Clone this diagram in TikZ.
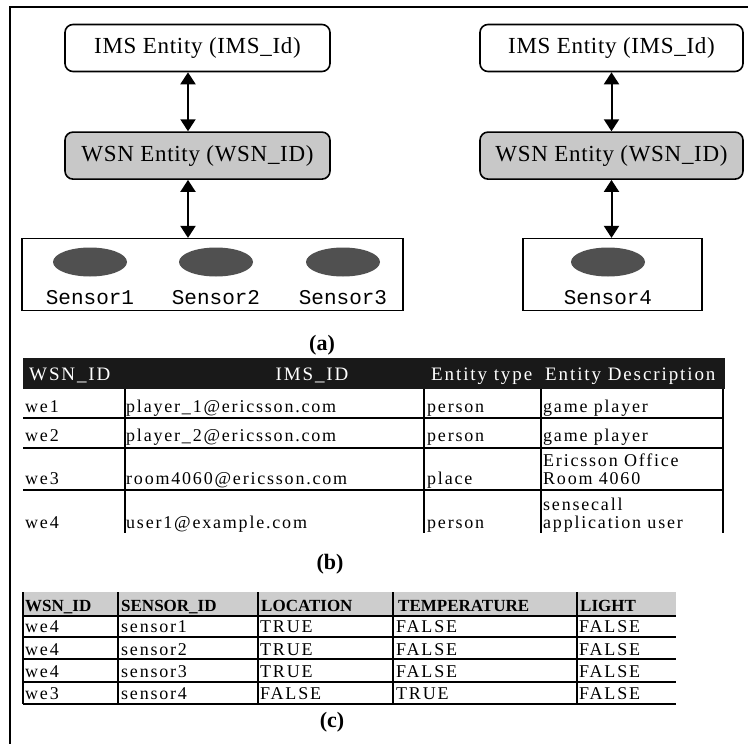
\documentclass[tikz,border=0pt]{standalone}
\usepackage{fontspec}
\setmainfont{Liberation Serif}
\newfontfamily\boxfont{Liberation Serif}[LetterSpace=3]
\newfontfamily\tabfont{Liberation Serif}[LetterSpace=10]
\newfontfamily\sensfont{Liberation Mono}
\usepackage{tikz}
\usetikzlibrary{positioning, shapes.geometric, arrows.meta}
\definecolor{boxgray}{RGB}{200,200,200}
\definecolor{sensgray}{RGB}{80,80,80}
\definecolor{headdark}{RGB}{25,25,25}
\definecolor{headlight}{RGB}{205,205,205}

\begin{document}
\begin{tikzpicture}[x=1pt, y=-1pt, node distance=59pt,
  imsbox/.style={rectangle, draw, line width=1.6pt, fill=white, rounded corners=8pt, minimum width=265pt, minimum height=47pt, inner sep=0pt, font=\boxfont\fontsize{23}{26}\selectfont},
  wsnbox/.style={imsbox, fill=boxgray},
  sensbox/.style={rectangle, draw, line width=1.2pt, minimum height=72pt, inner sep=0pt},
  sensor/.style={ellipse, fill=sensgray, minimum width=74pt, minimum height=29pt, inner sep=0pt},
  senslabel/.style={anchor=base, inner sep=0pt, font=\sensfont\fontsize{21}{24}\selectfont},
  dblarrow/.style={<->, >={Triangle[width=15pt,length=12pt]}, line width=2pt},
  tabtext/.style={anchor=base west, inner sep=0pt, font=\tabfont\fontsize{18}{20}\selectfont},
  headtext/.style={tabtext, text=white, font=\tabfont\fontsize{19}{21}\selectfont},
  ctitle/.style={anchor=base west, inner sep=0pt, font=\bfseries\fontsize{17}{19}\selectfont},
  tabline/.style={line width=1.4pt},
  caption/.style={anchor=base, font=\bfseries\fontsize{22}{24}\selectfont}]

\useasboundingbox (0,0) rectangle (748,744);

% outer frame
\draw[line width=1.5pt] (748,7) -- (10,7) -- (10,744);

% (a) left entity
\node[imsbox] (imsA) at (197.5,48) {IMS Entity (IMS\_Id)};
\node[wsnbox, below=of imsA] (wsnA) {WSN Entity (WSN\_ID)};
\node[sensbox, minimum width=381pt, below=58pt of wsnA, xshift=15pt] (sensA) {};

% (a) right entity
\node[imsbox, minimum width=263pt] (imsB) at (611.5,48) {IMS Entity (IMS\_Id)};
\node[wsnbox, minimum width=263pt, below=of imsB] (wsnB) {WSN Entity (WSN\_ID)};
\node[sensbox, minimum width=179pt, below=58pt of wsnB, xshift=1pt] (sensB) {};

% sensors
\node[sensor] (s1) at (90,262) {};
\node[sensor] (s2) at (216,262) {};
\node[sensor] (s3) at (343,262) {};
\node[sensor] (s4) at (608,262) {};
\node[senslabel] (l1) at (90,304) {Sensor1};
\node[senslabel] (l2) at (216,304) {Sensor2};
\node[senslabel] (l3) at (343,304) {Sensor3};
\node[senslabel] (l4) at (608,304) {Sensor4};

% arrows
\draw[dblarrow] ([xshift=-9.5pt]imsA.south) -- ([xshift=-9.5pt]wsnA.north);
\draw[dblarrow] ([xshift=-9.5pt]wsnA.south) -- ([xshift=-9.5pt]wsnA.south |- sensA.north);
\draw[dblarrow] (imsB) -- (wsnB);
\draw[dblarrow] (wsnB.south) -- (wsnB.south |- sensB.north);

\node[caption] (capA) at (322,350) {(a)};

% (b) entity table
\fill[headdark] (23,358) rectangle (725,389);
\node[headtext] (hb1) at (29,380) {WSN\_ID};
\node[headtext, anchor=base] (hb2) at (312,380) {IMS\_ID};
\node[headtext] (hb3) at (431,380) {Entity type};
\node[headtext] (hb4) at (545,380) {Entity Description};
\foreach \yy in {418,448,490} \draw[tabline] (23,\yy) -- (723,\yy);
\foreach \xx in {125,424,541,723} \draw[tabline] (\xx,389) -- (\xx,533);
\foreach \wid/\imsid/\etype/\desc/\yb [count=\i] in {
  we1/player\_1@ericsson.com/person/game player/412,
  we2/player\_2@ericsson.com/person/game player/441,
  we3/room4060@ericsson.com/place/Room 4060/484,
  we4/user1@example.com/person/application user/528}{
  \node[tabtext] (bw\i) at (25,\yb) {\wid};
  \node[tabtext] (bi\i) at (126,\yb) {\imsid};
  \node[tabtext] (bt\i) at (427,\yb) {\etype};
  \node[tabtext] (bd\i) at (543,\yb) {\desc};
}
\node[tabtext] (bd3top) at (543,466) {Ericsson Office};
\node[tabtext] (bd4top) at (543,510) {sensecall};

\node[caption] (capB) at (330,569) {(b)};

% (c) sensor table
\fill[headlight] (23,592) rectangle (676,616);
\node[ctitle] (hc1) at (25,611) {WSN\_ID};
\node[ctitle] (hc2) at (121,611) {SENSOR\_ID};
\node[ctitle] (hc3) at (261,611) {LOCATION};
\node[ctitle] (hc4) at (398,611) {TEMPERATURE};
\node[ctitle] (hc5) at (580,611) {LIGHT};
\foreach \yy in {616,637,659,682,704} \draw[tabline] (23,\yy) -- (676,\yy);
\foreach \xx in {23,118,258,393,577} \draw[tabline] (\xx,592) -- (\xx,704);
\foreach \wid/\sid/\loc/\temp/\light/\yb [count=\i] in {
  we4/sensor1/TRUE/FALSE/FALSE/632,
  we4/sensor2/TRUE/FALSE/FALSE/655,
  we4/sensor3/TRUE/FALSE/FALSE/677,
  we3/sensor4/FALSE/TRUE/FALSE/699}{
  \node[tabtext] (cw\i) at (25,\yb) {\wid};
  \node[tabtext] (cs\i) at (121,\yb) {\sid};
  \node[tabtext] (cl\i) at (260,\yb) {\loc};
  \node[tabtext] (ct\i) at (396,\yb) {\temp};
  \node[tabtext] (cg\i) at (579,\yb) {\light};
}

\node[caption] (capC) at (332,727) {(c)};

\end{tikzpicture}
\end{document}
